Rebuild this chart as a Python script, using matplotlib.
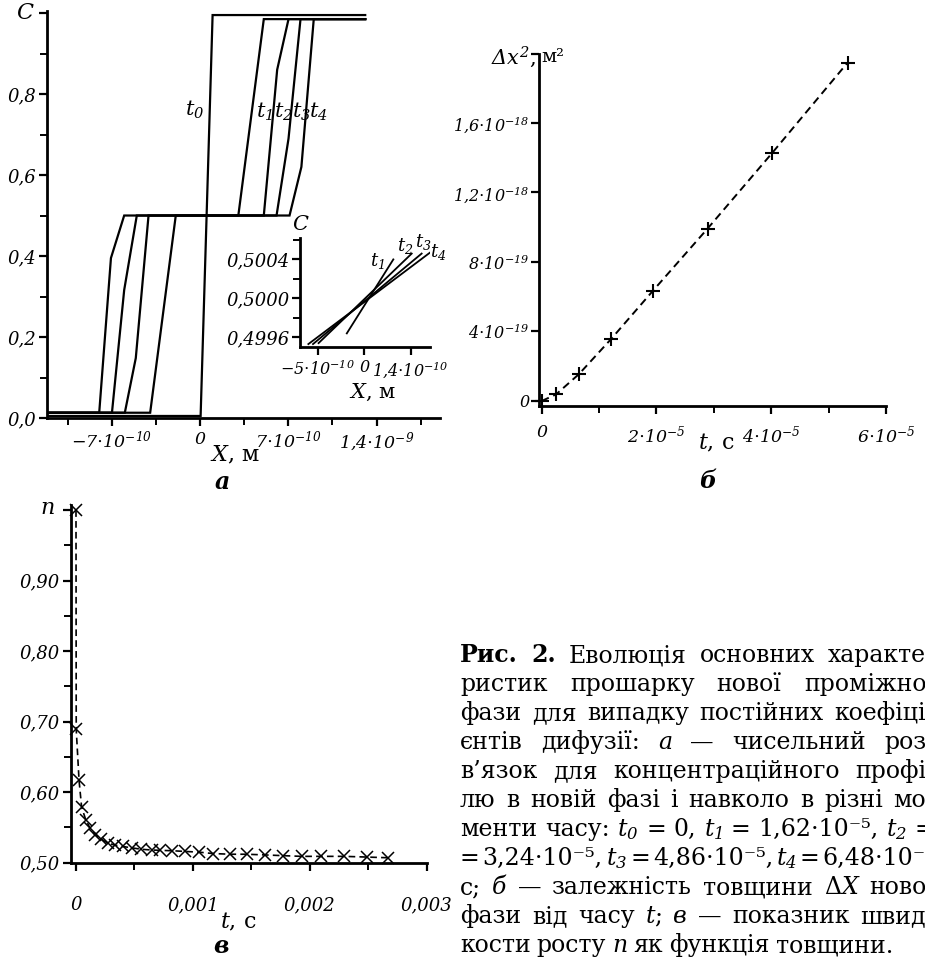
import matplotlib
matplotlib.use('Agg')
import matplotlib.pyplot as plt
import numpy as np

plt.rcParams['font.family'] = ['DejaVu Serif', 'DejaVu Sans']
plt.rcParams['mathtext.fontset'] = 'custom'
plt.rcParams['mathtext.rm'] = 'DejaVu Serif:italic'
plt.rcParams['mathtext.it'] = 'DejaVu Serif:italic'
plt.rcParams['mathtext.bf'] = 'DejaVu Serif:bold'

# ---------------- data ----------------
# panel a: concentration profiles C(X), X in metres
a_t0_x = [-12.1e-10, 0.05e-10, 1.0e-10, 13.1e-10]
a_t0_c = [0.005, 0.005, 0.995, 0.995]
a_t1_x = [-12.1e-10, -3.95e-10, -1.92e-10, 3.04e-10, 5.06e-10, 13.1e-10]
a_t1_c = [0.013, 0.013, 0.5, 0.5, 0.985, 0.985]
a_t2_x = [-12.1e-10, -5.96e-10, -5.09e-10, -4.08e-10, 5.06e-10, 6.12e-10, 7.02e-10, 13.1e-10]
a_t2_c = [0.013, 0.013, 0.148, 0.5, 0.5, 0.86, 0.985, 0.985]
a_t3_x = [-12.1e-10, -6.98e-10, -6.01e-10, -5.01e-10, 6.07e-10, 7.02e-10, 7.97e-10, 13.1e-10]
a_t3_c = [0.013, 0.013, 0.316, 0.5, 0.5, 0.69, 0.985, 0.985]
a_t4_x = [-12.1e-10, -7.99e-10, -7.06e-10, -6.01e-10, 7.10e-10, 8.04e-10, 9.02e-10, 13.1e-10]
a_t4_c = [0.013, 0.013, 0.395, 0.5, 0.5, 0.62, 0.985, 0.985]

# inset of panel a
in_t1_x = [-1.86e-10, 3.15e-10]
in_t1_c = [0.49964, 0.50040]
in_t2_x = [-4.9e-10, 5.13e-10]
in_t2_c = [0.49954, 0.50046]
in_t3_x = [-5.5e-10, 6.2e-10]
in_t3_c = [0.49953, 0.50046]
in_t4_x = [-6.0e-10, 7.1e-10]
in_t4_c = [0.49953, 0.50047]

# panel b: dx^2 vs t
b_t = [0, 0.25e-5, 0.65e-5, 1.21e-5, 1.94e-5, 2.89e-5, 4.01e-5, 5.33e-5]
b_dx2 = [0, 0.38e-19, 1.55e-19, 3.57e-19, 6.35e-19, 9.92e-19, 14.25e-19, 19.47e-19]

# panel v: n vs t
v_t = [0, 0.000002, 0.000026, 0.000048, 0.000083, 0.00012, 0.00016, 0.00021,
       0.00027, 0.00033, 0.00040, 0.00048, 0.00056, 0.00065, 0.00072, 0.00082,
       0.00093, 0.00105, 0.00117, 0.00132, 0.00146, 0.00162, 0.00177, 0.00193,
       0.00210, 0.00229, 0.00249, 0.00267]
v_n = [1.0, 0.689, 0.617, 0.579, 0.561, 0.549, 0.540, 0.534,
       0.528, 0.525, 0.523, 0.521, 0.519, 0.518, 0.5175, 0.517,
       0.516, 0.515, 0.513, 0.512, 0.512, 0.511, 0.510, 0.509,
       0.509, 0.509, 0.508, 0.507]

# tick labels
a_xticks = [-7e-10, 0, 7e-10, 1.4e-9]
a_xlabels = [r'$-7{\cdot}10^{-10}$', '0', r'$7{\cdot}10^{-10}$', r'$1{,}4{\cdot}10^{-9}$']
a_yticks = [0, 0.2, 0.4, 0.6, 0.8, 1.0]
a_ylabels = ['0,0', '0,2', '0,4', '0,6', '0,8', '']
in_xticks = [-5e-10, 0, 5e-10]
in_xlabels = [r'$-5{\cdot}10^{-10}$', '0', r'$1{,}4{\cdot}10^{-10}$']
in_yticks = [0.4996, 0.5000, 0.5004]
in_ylabels = ['0,4996', '0,5000', '0,5004']
b_xticks = [0, 2e-5, 4e-5, 6e-5]
b_xlabels = ['0', r'$2{\cdot}10^{-5}$', r'$4{\cdot}10^{-5}$', r'$6{\cdot}10^{-5}$']
b_yticks = [0, 4e-19, 8e-19, 12e-19, 16e-19, 20e-19]
b_ylabels = ['0', r'$4{\cdot}10^{-19}$', r'$8{\cdot}10^{-19}$',
             r'$1{,}2{\cdot}10^{-18}$', r'$1{,}6{\cdot}10^{-18}$', '']
v_xticks = [0, 0.001, 0.002, 0.003]
v_xlabels = ['0', '0,001', '0,002', '0,003']
v_yticks = [0.5, 0.6, 0.7, 0.8, 0.9, 1.0]
v_ylabels = ['0,50', '0,60', '0,70', '0,80', '0,90', '']

# ---------------- figure ----------------
W, H = 925, 958
fig = plt.figure(figsize=(W / 100, H / 100), dpi=100)


def ax_at(l, t, r, b):
    return fig.add_axes([l / W, 1 - b / H, (r - l) / W, (b - t) / H])


def P(x, y):
    return x / W, 1 - y / H


def style_axes(ax, xt, xl, yt, yl, xminor, yminor, xpad=2, ypad=1.5, xfs=13, yfs=13):
    for s in ['top', 'right']:
        ax.spines[s].set_visible(False)
    for s in ['left', 'bottom']:
        ax.spines[s].set_linewidth(2.0)
    ax.set_facecolor('none')
    ax.set_xticks(xt)
    ax.set_xticklabels(xl, fontsize=xfs, style='italic')
    ax.set_yticks(yt)
    ax.set_yticklabels(yl, fontsize=yfs, style='italic')
    ax.set_xticks(xminor, minor=True)
    ax.set_yticks(yminor, minor=True)
    ax.tick_params(which='major', direction='out', length=6, width=1.6)
    ax.tick_params(which='minor', direction='out', length=5, width=1.4)
    ax.tick_params(axis='x', pad=xpad)
    ax.tick_params(axis='y', pad=ypad)


# panel a
axA = ax_at(47, 11, 440, 418)
for xs, cs in [(a_t0_x, a_t0_c), (a_t1_x, a_t1_c), (a_t2_x, a_t2_c),
               (a_t3_x, a_t3_c), (a_t4_x, a_t4_c)]:
    axA.plot(xs, cs, color='black', lw=1.6, solid_joinstyle='miter')
axA.set_xlim(-12.13e-10, 19.03e-10)
axA.set_ylim(0, 1.005)
style_axes(axA, a_xticks, a_xlabels, a_yticks, a_ylabels,
           [-10.5e-10, -3.5e-10, 3.5e-10, 10.5e-10, 17.5e-10],
           [0.1, 0.3, 0.5, 0.7, 0.9], xpad=3, ypad=1.5, xfs=12.5, yfs=13)

fig.text(*P(25, 13), 'C', fontsize=16, style='italic', ha='center', va='center')
fig.text(*P(235, 455), r'$X$, м', fontsize=16, ha='center', va='center')
fig.text(*P(222, 482), 'а', fontsize=17, style='italic', weight='bold', ha='center', va='center')
for lab, (x, y) in zip([r'$t_0$', r'$t_1$', r'$t_2$', r'$t_3$', r'$t_4$'],
                       [(195, 110), (264, 112), (283, 112), (301, 112), (318, 112)]):
    fig.text(*P(x, y), lab, fontsize=15, ha='center', va='center')

# inset
axI = ax_at(300, 238, 430, 347)
for xs, cs in [(in_t1_x, in_t1_c), (in_t2_x, in_t2_c), (in_t3_x, in_t3_c), (in_t4_x, in_t4_c)]:
    axI.plot(xs, cs, color='black', lw=1.3)
axI.set_xlim(-6.9e-10, 7.1e-10)
axI.set_ylim(0.49950, 0.50062)
style_axes(axI, in_xticks, in_xlabels, in_yticks, in_ylabels,
           [], [0.4998, 0.5002, 0.5006], xpad=3, ypad=1.5, xfs=11.5, yfs=13)
fig.text(*P(300, 225), 'C', fontsize=15, style='italic', ha='center', va='center')
fig.text(*P(372, 392), r'$X$, м', fontsize=15, ha='center', va='center')
for lab, (x, y) in zip([r'$t_1$', r'$t_2$', r'$t_3$', r'$t_4$'],
                       [(377, 261), (405, 246), (423, 242), (438, 252)]):
    fig.text(*P(x, y), lab, fontsize=13, ha='center', va='center')

# panel b
axB = ax_at(539.3, 53.5, 886, 406)
axB.plot(b_t, b_dx2, color='black', lw=1.4, ls=(0, (4, 2.5)), marker='+',
         ms=9.5, mew=1.5, clip_on=False)
axB.set_xlim(-0.042e-5, 6e-5)
axB.set_ylim(-0.288e-19, 20e-19)
style_axes(axB, b_xticks, b_xlabels, b_yticks, b_ylabels,
           [1e-5, 3e-5, 5e-5], [], xpad=7, ypad=1, xfs=12.5, yfs=11.5)
fig.text(*P(536, 57), r'$\Delta x^2$,', fontsize=15, ha='right', va='center')
fig.text(*P(541, 57), 'м²', fontsize=14, ha='left', va='center')
fig.text(*P(716, 443), r'$t$, с', fontsize=16, ha='center', va='center')
fig.text(*P(708, 481), 'б', fontsize=17, style='italic', weight='bold', ha='center', va='center')

# panel v
axC = ax_at(70.7, 505, 426.7, 862.7)
axC.plot(v_t, v_n, color='black', lw=1.2, ls=(0, (4, 2.5)), marker='x',
         ms=9, mew=1.1, clip_on=False)
axC.set_xlim(-0.0000453, 0.003)
axC.set_ylim(0.5, 1.0074)
style_axes(axC, v_xticks, v_xlabels, v_yticks, v_ylabels,
           [0.0005, 0.0015, 0.0025], [0.55, 0.65, 0.75, 0.85, 0.95], xpad=18, ypad=2)
fig.text(*P(47, 508), r'$n$', fontsize=16, ha='center', va='center')
fig.text(*P(238, 922), r'$t$, с', fontsize=16, ha='center', va='center')
fig.text(*P(221, 946), 'в', fontsize=17, style='italic', weight='bold', ha='center', va='center')

# ---------------- caption (justified) ----------------
R = {}
B = {'weight': 'bold'}
I = {'style': 'italic'}
lines = [
    [('Рис.', B), ('2.', B), ('Еволюція', R), ('основних', R), ('характе-', R)],
    [('ристик', R), ('прошарку', R), ('нової', R), ('проміжної', R)],
    [('фази', R), ('для', R), ('випадку', R), ('постійних', R), ('коефіці-', R)],
    [('єнтів', R), ('дифузії:', R), ('а', I), ('—', R), ('чисельний', R), ('роз-', R)],
    [('в’язок', R), ('для', R), ('концентраційного', R), ('профі-', R)],
    [('лю', R), ('в', R), ('новій', R), ('фазі', R), ('і', R), ('навколо', R), ('в', R), ('різні', R), ('мо-', R)],
    [('менти', R), ('часу:', R), (r'$t_0$', R), ('=', R), ('0,', R), (r'$t_1$', R), ('=', R),
     ('1,62·10⁻⁵,', R), (r'$t_2$', R), ('=', R)],
    [('=', R), ('3,24·10⁻⁵,', R), (r'$t_3$', R), ('=', R), ('4,86·10⁻⁵,', R), (r'$t_4$', R), ('=', R),
     ('6,48·10⁻⁵', R)],
    [('с;', R), ('б', I), ('—', R), ('залежність', R), ('товщини', R), ('Δ', R), ('X', I), ('нової', R)],
    [('фази', R), ('від', R), ('часу', R), (r'$t$;', R), ('в', I), ('—', R), ('показник', R), ('швид-', R)],
    [('кости', R), ('росту', R), (r'$n$', R), ('як', R), ('функція', R), ('товщини.', R)],
]
CAPFS = 17
X0, X1 = 460, 934
renderer = fig.canvas.get_renderer()
for i, toks in enumerate(lines):
    yb = 662 + 29.0 * i
    texts = [fig.text(0, 1 - yb / H, s, fontsize=CAPFS, ha='left', va='baseline', **kw)
             for s, kw in toks]
    widths = [t.get_window_extent(renderer).width for t in texts]
    total = sum(widths)
    # "Δ" and "X" are glued together (no gap between them)
    glued = [j for j in range(len(toks) - 1) if toks[j][0] == 'Δ']
    ngap = len(texts) - 1 - len(glued)
    if i == len(lines) - 1:
        gap = 6.0
    else:
        gap = max((X1 - X0 - total) / ngap, 3.0)
    x = X0
    for j, (t, w) in enumerate(zip(texts, widths)):
        t.set_x(x / W)
        x += w + (0 if j in glued else gap)

fig.savefig('out.png', dpi=100)
